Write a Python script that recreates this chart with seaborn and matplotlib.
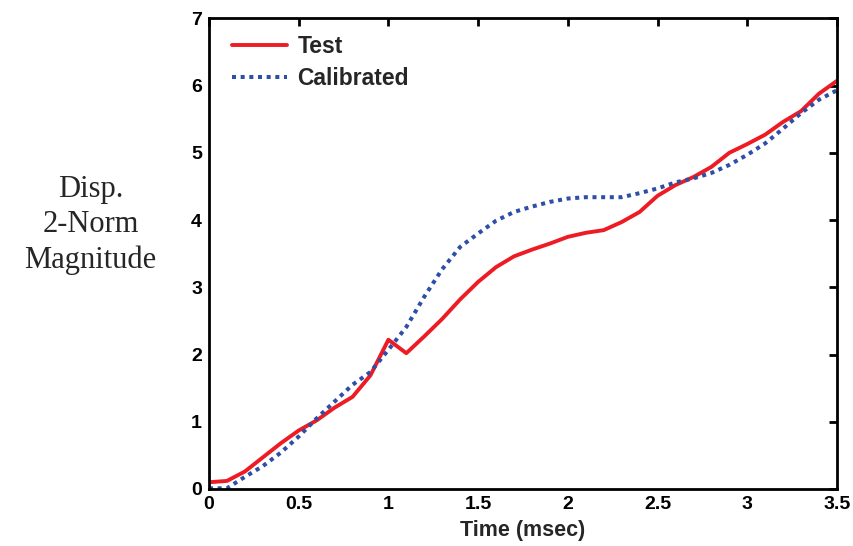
import numpy as np
import pandas as pd
import matplotlib
matplotlib.use("Agg")
import matplotlib.pyplot as plt
import seaborn as sns

# time axis (msec)
time = [0.0, 0.1, 0.2, 0.3, 0.4, 0.5, 0.6, 0.7, 0.8, 0.9, 1.0, 1.1, 1.2,
        1.3, 1.4, 1.5, 1.6, 1.7, 1.8, 1.9, 2.0, 2.1, 2.2, 2.3, 2.4, 2.5,
        2.6, 2.7, 2.8, 2.9, 3.0, 3.1, 3.2, 3.3, 3.4, 3.5]

test = [0.10, 0.12, 0.26, 0.47, 0.68, 0.87, 1.02, 1.21, 1.37, 1.69, 2.22,
        2.02, 2.27, 2.53, 2.82, 3.08, 3.30, 3.46, 3.56, 3.65, 3.75, 3.81,
        3.85, 3.97, 4.12, 4.36, 4.52, 4.64, 4.79, 5.00, 5.13, 5.27, 5.46,
        5.62, 5.88, 6.07]

calibrated = [0.01, 0.01, 0.18, 0.34, 0.54, 0.78, 1.05, 1.30, 1.55, 1.74,
              2.07, 2.41, 2.86, 3.27, 3.60, 3.80, 3.99, 4.12, 4.20, 4.27,
              4.32, 4.34, 4.34, 4.34, 4.40, 4.47, 4.56, 4.62, 4.70, 4.82,
              4.97, 5.14, 5.36, 5.59, 5.79, 5.93]

sns.set_style("white")
plt.rcParams["font.family"] = ["Liberation Sans", "DejaVu Sans"]

fig = plt.figure(figsize=(8.54, 5.46), dpi=100)
ax = fig.add_axes([0.2447, 0.1044, 0.7353, 0.862])

df = pd.DataFrame({"time": time, "Test": test, "Calibrated": calibrated})

sns.lineplot(data=df, x="time", y="Test", ax=ax, color="#ED1C24",
             linewidth=2.8, label="Test")
sns.lineplot(data=df, x="time", y="Calibrated", ax=ax, color="#2E4FA6",
             linewidth=2.9, label="Calibrated")
ax.lines[1].set_dashes((1, 1.15))

ax.set_xlim(0, 3.5)
ax.set_ylim(0, 7)
ax.set_xticks([0, 0.5, 1, 1.5, 2, 2.5, 3, 3.5])
ax.set_xticklabels(["0", "0.5", "1", "1.5", "2", "2.5", "3", "3.5"])
ax.set_yticks(range(0, 8))

for s in ax.spines.values():
    s.set_visible(True)
    s.set_color("black")
    s.set_linewidth(2.0)

ax.tick_params(direction="in", length=6, width=2, top=True, right=True,
               labelsize=14, pad=5, colors="black")
for lab in ax.get_xticklabels() + ax.get_yticklabels():
    lab.set_fontweight("bold")

ax.set_xlabel("Time (msec)", fontsize=15.5, fontweight="bold", labelpad=5)
ax.set_ylabel("")
fig.text(0.106, 0.588, "Disp.\n2-Norm\nMagnitude", ha="center", va="center",
         fontsize=22, family=["Liberation Serif", "DejaVu Serif"],
         linespacing=1.3)

leg = ax.legend(loc="upper left", bbox_to_anchor=(0.022, 0.985),
                frameon=False, fontsize=16.5, handlelength=2.4,
                handletextpad=0.45, labelspacing=0.4, borderaxespad=0)
for t in leg.get_texts():
    t.set_fontweight("bold")

fig.savefig("out.png", dpi=100)
